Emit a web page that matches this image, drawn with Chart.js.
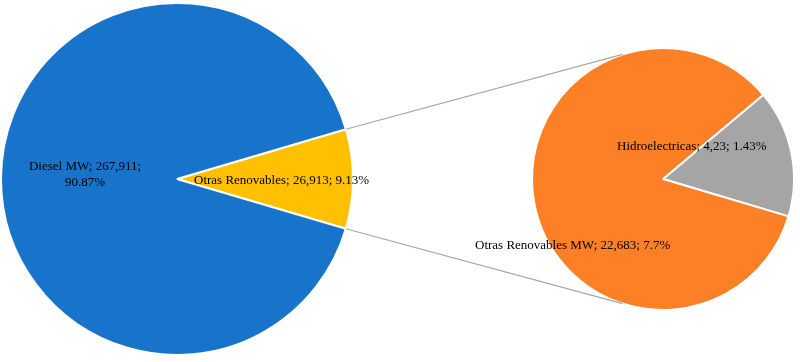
<!DOCTYPE html>
<html>
<head>
<meta charset="utf-8">
<script src="https://cdn.jsdelivr.net/npm/chart.js@4"></script>
<style>
  html, body { margin: 0; padding: 0; background: #fff; }
  #wrap { position: relative; width: 800px; height: 362px; }
  #wrap canvas { position: absolute; left: 0; top: 0; }
</style>
</head>
<body>
<div id="wrap">
  <canvas id="principal" width="800" height="362"></canvas>
  <canvas id="secundario" width="800" height="362"></canvas>
</div>
<script>
// Datos del gráfico principal
const categoriasPrincipal = ["Otras Renovables", "Diesel MW"];
const valoresPrincipal = [26.913, 267.911];
const porcentajesPrincipal = ["9.13%", "90.87%"];
const textosPrincipal = ["26,913", "267,911"];

// Datos del gráfico secundario (desglose de Otras Renovables)
const categoriasSecundario = ["Hidroelectricas", "Otras Renovables MW"];
const valoresSecundario = [4.23, 22.683];
const porcentajesSecundario = ["1.43%", "7.7%"];
const textosSecundario = ["4,23", "22,683"];

const coloresPrincipal = ["#FFC000", "#1873CA"];
const coloresSecundario = ["#A5A5A5", "#FD7F26"];

const fuente = "13px 'Liberation Serif', 'Times New Roman', serif";

function sumar(arr) {
    return arr.reduce(function (a, b) { return a + b; }, 0);
}

// giro para que la porción pequeña quede centrada a la derecha
const giroPrincipal = 90 - (valoresPrincipal[0] / sumar(valoresPrincipal)) * 180;
const giroSecundario = 50;

var graficaPrincipal = new Chart(document.getElementById("principal"), {
    type: 'pie',
    data: {
        labels: categoriasPrincipal,
        datasets: [{
            data: valoresPrincipal,
            backgroundColor: coloresPrincipal,
            borderColor: "#ffffff",
            borderWidth: 2
        }]
    },
    options: {
        responsive: false,
        animation: false,
        rotation: giroPrincipal,
        events: [],
        layout: { padding: { left: 0, top: 0, right: 446, bottom: 4 } },
        plugins: { legend: { display: false }, tooltip: { enabled: false } }
    }
});

// Dibuja las líneas de conexión y las etiquetas
const pluginConexion = {
    id: 'conexion',
    afterDraw: function (chart) {
        const ctx = chart.ctx;
        const yellow = graficaPrincipal.getDatasetMeta(0).data[0];
        const diesel = graficaPrincipal.getDatasetMeta(0).data[1];
        const arcos = chart.getDatasetMeta(0).data;
        const cx = arcos[0].x, cy = arcos[0].y, r = arcos[0].outerRadius;
        const ang = 108 * Math.PI / 180;

        ctx.save();
        ctx.strokeStyle = "#a6a6a6";
        ctx.lineWidth = 1.2;
        ctx.beginPath();
        ctx.moveTo(yellow.x + yellow.outerRadius * Math.cos(yellow.startAngle),
                   yellow.y + yellow.outerRadius * Math.sin(yellow.startAngle));
        ctx.lineTo(cx + r * Math.cos(-ang), cy + r * Math.sin(-ang));
        ctx.moveTo(yellow.x + yellow.outerRadius * Math.cos(yellow.endAngle),
                   yellow.y + yellow.outerRadius * Math.sin(yellow.endAngle));
        ctx.lineTo(cx + r * Math.cos(ang), cy + r * Math.sin(ang));
        ctx.stroke();

        ctx.font = fuente;
        ctx.fillStyle = "#000";
        ctx.textBaseline = "middle";

        // Diesel (dos líneas)
        ctx.textAlign = "center";
        var p = diesel.getCenterPoint();
        ctx.fillText(categoriasPrincipal[1] + "; " + textosPrincipal[1] + ";", p.x - 4, p.y - 12);
        ctx.fillText(porcentajesPrincipal[1], p.x - 4, p.y + 4);

        // Otras Renovables
        ctx.textAlign = "left";
        ctx.fillText(categoriasPrincipal[0] + "; " + textosPrincipal[0] + "; " + porcentajesPrincipal[0],
                     yellow.x + 17, yellow.y + 2);

        // Hidroelectricas
        ctx.fillText(categoriasSecundario[0] + "; " + textosSecundario[0] + "; " + porcentajesSecundario[0],
                     cx - 46, cy - 32);

        // Otras Renovables MW
        ctx.fillText(categoriasSecundario[1] + "; " + textosSecundario[1] + "; " + porcentajesSecundario[1],
                     cx - 188, cy + 67);
        ctx.restore();
    }
};

var graficaSecundaria = new Chart(document.getElementById("secundario"), {
    type: 'pie',
    data: {
        labels: categoriasSecundario,
        datasets: [{
            data: valoresSecundario,
            backgroundColor: coloresSecundario,
            borderColor: "#ffffff",
            borderWidth: 2
        }]
    },
    options: {
        responsive: false,
        animation: false,
        rotation: giroSecundario,
        events: [],
        layout: { padding: { left: 531, top: 47, right: 5, bottom: 51 } },
        plugins: { legend: { display: false }, tooltip: { enabled: false } }
    },
    plugins: [pluginConexion]
});
</script>
</body>
</html>
